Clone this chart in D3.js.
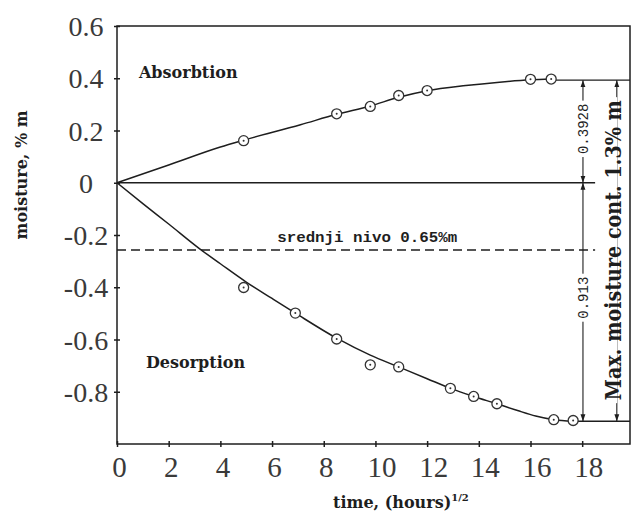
<!DOCTYPE html>
<html><head><meta charset="utf-8">
<script src="https://cdn.jsdelivr.net/npm/d3@7"></script>
<style>
html,body{margin:0;padding:0;background:#fff;}
svg{display:block;}
</style></head>
<body>
<script>
// ---- data ----
const xTicks = [0, 2, 4, 6, 8, 10, 12, 14, 16, 18];
const yTicks = [0.6, 0.4, 0.2, 0, -0.2, -0.4, -0.6, -0.8];
const yTickLabels = ["0.6", "0.4", "0.2", "0", "-0.2", "-0.4", "-0.6", "-0.8"];

const absT = [4.9, 8.5, 9.8, 10.9, 12.0, 16.0, 16.8];
const absV = [0.161, 0.264, 0.292, 0.334, 0.353, 0.396, 0.397];
const desT = [4.9, 6.9, 8.5, 9.8, 10.9, 12.9, 13.8, 14.7, 16.9, 17.65];
const desV = [-0.401, -0.499, -0.598, -0.697, -0.705, -0.787, -0.818, -0.846, -0.907, -0.910];

const absCurveT = [0, 2, 4, 4.9, 7.1, 8.5, 9.8, 10.9, 12, 13.5, 14.8, 16, 16.8];
const absCurveV = [0, 0.068, 0.137, 0.163, 0.222, 0.262, 0.294, 0.327, 0.352, 0.372, 0.385, 0.394, 0.397];
const desCurveT = [0, 1, 2, 3.2, 4, 5, 6, 6.9, 8.5, 9.8, 10.9, 12, 12.9, 13.8, 14.7, 15.5, 16.2, 16.9, 17.65];
const desCurveV = [0, -0.08, -0.158, -0.253, -0.31, -0.38, -0.443, -0.499, -0.595, -0.66, -0.705, -0.75, -0.787, -0.818, -0.846, -0.872, -0.893, -0.907, -0.913];

const maxAbs = 0.3928;
const maxDes = -0.913;
const totalMax = 1.3;
const meanLevel = maxAbs - totalMax / 2;   // "srednji nivo 0.65%m"

const labels = {
  abs: "Absorbtion", des: "Desorption",
  mean: "srednji nivo 0.65%m",
  dimTop: "0.3928", dimBot: "0.913",
  dimTotal: "Max. moisture cont. 1.3% m",
  yTitle: "moisture, % m", xTitle: "time, (hours)", xSup: "1/2"
};

// ---- layout ----
const W = 633, H = 515;
const M = {left: 117, top: 26, right: 630, bottom: 444};
const x = d3.scaleLinear().domain([0, 19.85]).range([M.left, M.right]);
const y = d3.scaleLinear().domain([-1, 0.6]).range([M.bottom, M.top]);

const svg = d3.select("body").append("svg").attr("width", W).attr("height", H);
svg.append("rect").attr("width", W).attr("height", H).attr("fill", "#fff");

const ink = "#1e1e1e";
const serif = "'DejaVu Serif', serif";
const tickFont = "'Liberation Serif', 'Times New Roman', serif";

const defs = svg.append("defs");
defs.append("marker").attr("id", "arr")
  .attr("viewBox", "0 0 10 10").attr("refX", 10).attr("refY", 5)
  .attr("markerWidth", 7).attr("markerHeight", 7).attr("markerUnits", "userSpaceOnUse")
  .attr("orient", "auto")
  .append("path").attr("d", "M0,1.5 L10,5 L0,8.5 Z").attr("fill", ink);

// frame
svg.append("rect").attr("x", M.left).attr("y", M.top)
  .attr("width", M.right - M.left).attr("height", M.bottom - M.top)
  .attr("fill", "none").attr("stroke", ink).attr("stroke-width", 1.5);

// x axis ticks
const xAxis = d3.axisBottom(x).tickValues(xTicks).tickSize(0).tickFormat(d => d);
const gx = svg.append("g").attr("transform", `translate(0,${M.bottom})`).call(xAxis);
gx.select(".domain").remove();
gx.selectAll(".tick").append("line").attr("y1", -3).attr("y2", 3)
  .attr("stroke", ink).attr("stroke-width", 1.5);
gx.selectAll(".tick text").attr("y", 33).attr("dy", 0)
  .attr("dx", d => d >= 10 ? 6 : 2)
  .attr("font-family", tickFont).attr("font-size", 29).attr("fill", "#3a3a3a");

// y axis ticks
const yAxis = d3.axisLeft(y).tickValues(yTicks).tickSize(0)
  .tickFormat((d, i) => yTickLabels[i]);
const gy = svg.append("g").attr("transform", `translate(${M.left},0)`).call(yAxis);
gy.select(".domain").remove();
gy.selectAll(".tick").append("line").attr("x1", -3).attr("x2", 3)
  .attr("stroke", ink).attr("stroke-width", 1.5);
gy.selectAll(".tick text").attr("x", -31).attr("text-anchor", "middle").attr("dy", "0.34em")
  .attr("font-family", tickFont).attr("font-size", 28).attr("fill", "#3a3a3a");

// zero line and mean (dashed) line
svg.append("line").attr("x1", x(0)).attr("x2", x(18.5)).attr("y1", y(0)).attr("y2", y(0))
  .attr("stroke", ink).attr("stroke-width", 1.4);
svg.append("line").attr("x1", x(0)).attr("x2", x(18.5)).attr("y1", y(meanLevel)).attr("y2", y(meanLevel))
  .attr("stroke", ink).attr("stroke-width", 1.4).attr("stroke-dasharray", "9,5");

// max reference lines
svg.append("line").attr("x1", x(16.8)).attr("x2", M.right).attr("y1", y(maxAbs)).attr("y2", y(maxAbs))
  .attr("stroke", ink).attr("stroke-width", 1.4);
svg.append("line").attr("x1", x(17.65)).attr("x2", M.right).attr("y1", y(maxDes)).attr("y2", y(maxDes))
  .attr("stroke", ink).attr("stroke-width", 1.4);

// fitted curves
const line = d3.line().x(d => x(d[0])).y(d => y(d[1])).curve(d3.curveMonotoneX);
svg.append("path").datum(absCurveT.map((t, i) => [t, absCurveV[i]]))
  .attr("d", line).attr("fill", "none").attr("stroke", ink).attr("stroke-width", 1.5);
svg.append("path").datum(desCurveT.map((t, i) => [t, desCurveV[i]]))
  .attr("d", line).attr("fill", "none").attr("stroke", ink).attr("stroke-width", 1.5);

// points
function drawPoints(ts, vs) {
  const g = svg.append("g");
  const pts = ts.map((t, i) => [t, vs[i]]);
  g.selectAll("circle.o").data(pts).join("circle").attr("class", "o")
    .attr("cx", d => x(d[0])).attr("cy", d => y(d[1])).attr("r", 5)
    .attr("fill", "#fff").attr("stroke", "#333").attr("stroke-width", 1.3);
  g.selectAll("circle.c").data(pts).join("circle").attr("class", "c")
    .attr("cx", d => x(d[0])).attr("cy", d => y(d[1])).attr("r", 1)
    .attr("fill", "#333");
}
drawPoints(absT, absV);
drawPoints(desT, desV);

// dimension lines
function dimLine(t, v1, v2) {
  const mid = (y(v1) + y(v2)) / 2;
  svg.append("line").attr("x1", x(t)).attr("x2", x(t)).attr("y1", mid).attr("y2", y(v1))
    .attr("stroke", ink).attr("stroke-width", 1.1).attr("marker-end", "url(#arr)");
  svg.append("line").attr("x1", x(t)).attr("x2", x(t)).attr("y1", mid).attr("y2", y(v2))
    .attr("stroke", ink).attr("stroke-width", 1.1).attr("marker-end", "url(#arr)");
}
dimLine(18.03, maxAbs, 0);
dimLine(18.03, 0, maxDes);
dimLine(19.34, maxAbs, maxDes);

function rotText(t, v, txt, size, family, weight, len, bgw) {
  const cx = x(t), cy = y(v);
  const bg = svg.append("rect").attr("fill", "#fff");
  const tx = svg.append("text").attr("transform", `translate(${cx},${cy}) rotate(-90)`)
    .attr("text-anchor", "middle").attr("dy", "0.35em")
    .attr("font-family", family).attr("font-size", size).attr("font-weight", weight)
    .attr("fill", ink).text(txt);
  if (len) tx.attr("textLength", len).attr("lengthAdjust", "spacingAndGlyphs");
  const bb = tx.node().getBBox();
  const w = len || bb.width;
  bg.attr("x", x(t) - bgw / 2).attr("y", cy - w / 2 - 3)
    .attr("width", bgw).attr("height", w + 6);
  return tx;
}
rotText(18.03, maxAbs / 2 + 0.01, labels.dimTop, 14, "'Liberation Mono', monospace", "normal", 0, 10);
rotText(18.03, -0.44, labels.dimBot, 14, "'Liberation Mono', monospace", "normal", 0, 10);
rotText(19.2, -0.258, labels.dimTotal, 22, serif, "bold", 300, 8);

// texts
svg.append("text").attr("x", x(0.85)).attr("y", y(0.4)).text(labels.abs)
  .attr("font-family", serif).attr("font-weight", "bold").attr("font-size", 16).attr("fill", ink);
svg.append("text").attr("x", x(1.12)).attr("y", y(-0.71)).text(labels.des)
  .attr("font-family", serif).attr("font-weight", "bold").attr("font-size", 16).attr("fill", ink);
svg.append("text").attr("x", x(6.2)).attr("y", y(meanLevel) - 8).text(labels.mean)
  .attr("font-family", "'Liberation Mono', monospace").attr("font-weight", "bold")
  .attr("font-size", 15).attr("fill", ink)
  .attr("textLength", 180).attr("lengthAdjust", "spacingAndGlyphs");

// axis titles
svg.append("text").attr("transform", `translate(27,${y(0.03)}) rotate(-90)`)
  .attr("text-anchor", "middle").text(labels.yTitle)
  .attr("font-family", serif).attr("font-weight", "bold").attr("font-size", 16).attr("fill", ink);
const xt = svg.append("text").attr("x", 333).attr("y", 508)
  .attr("font-family", serif).attr("font-weight", "bold").attr("font-size", 16).attr("fill", ink);
xt.append("tspan").text(labels.xTitle);
xt.append("tspan").attr("dy", -7).attr("font-size", 10).text(labels.xSup);
</script>
</body></html>
